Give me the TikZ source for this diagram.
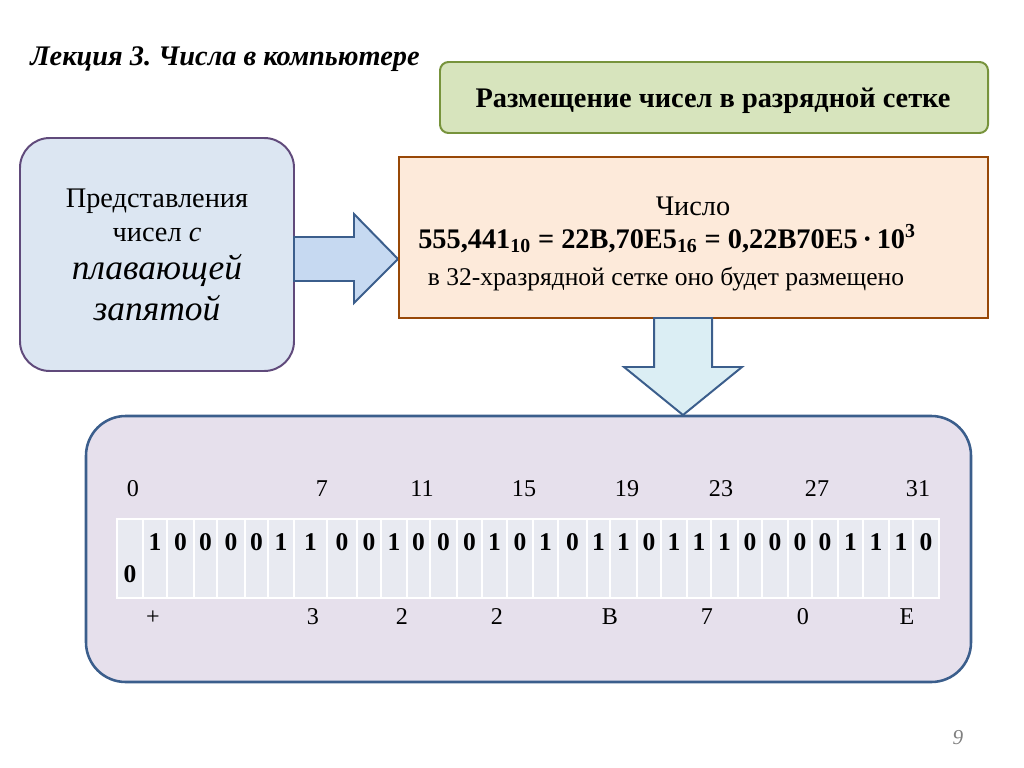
\documentclass[tikz,border=0pt]{standalone}
\usepackage{fontspec}
\setmainfont{Liberation Serif}
\frenchspacing
\definecolor{headfill}{HTML}{D7E4BD}
\definecolor{headline}{HTML}{77933C}
\definecolor{repfill}{HTML}{DCE6F2}
\definecolor{repline}{HTML}{604A7B}
\definecolor{arrowfill}{HTML}{C6D9F1}
\definecolor{arrowline}{HTML}{3B5E8C}
\definecolor{numfill}{HTML}{FDEADA}
\definecolor{numline}{HTML}{984807}
\definecolor{downfill}{HTML}{DBEEF4}
\definecolor{gridfill}{HTML}{E6E0EC}
\definecolor{cellfill}{HTML}{E8EAF1}

\begin{document}
\begin{tikzpicture}[x=0.0248cm, y=-0.0248cm,
        every node/.style={inner sep=0pt},
        idx/.style={anchor=base, font=\fontsize{17}{20}\selectfont},
        bitval/.style={anchor=base, font=\fontsize{18}{21}\selectfont\bfseries}]
        \useasboundingbox (0,0) rectangle (1024,768);

        % Title
        \node[anchor=base west, font=\fontsize{20}{24}\selectfont\bfseries\itshape] (title) at (30,66) {Лекция 3. Числа в компьютере};

        % Header box
        \draw[line width=1.4pt, draw=headline, fill=headfill, rounded corners=6pt] (440,62) rectangle (988,133);
        \node[anchor=base, font=\fontsize{20}{24}\selectfont\bfseries] (head) at (713,108) {Размещение чисел в разрядной сетке};

        % Left box
        \draw[line width=1.4pt, draw=repline, fill=repfill, rounded corners=21pt] (20,138) rectangle (294,371);
        \node[anchor=base, font=\fontsize{20}{24}\selectfont] (rep1) at (157,207) {Представления};
        \node[anchor=base, font=\fontsize{20}{24}\selectfont] (rep2) at (157,241) {чисел \textit{с}};
        \node[anchor=base, font=\fontsize{25}{29}\selectfont\itshape] (rep3) at (157,279) {плавающей};
        \node[anchor=base, font=\fontsize{25}{29}\selectfont\itshape] (rep4) at (157,320) {запятой};

        % Right arrow
        \draw[line width=1.4pt, draw=arrowline, fill=arrowfill, line join=miter]
            (294,237) -- (354,237) -- (354,214) -- (398,259) -- (354,303) -- (354,281) -- (294,281) -- cycle;

        % Number box
        \draw[line width=1.4pt, draw=numline, fill=numfill] (399,157) rectangle (988,318);
        \node[anchor=base, font=\fontsize{20}{24}\selectfont] (num1) at (693,215) {Число};
        \node[anchor=base, font=\fontsize{20}{24}\selectfont\bfseries] (num2) at (667,248)
            {555,441\textsubscript{10} = 22B,70E5\textsubscript{16} = 0,22B70E5\,·\,10\textsuperscript{3}};
        \node[anchor=base, font=\fontsize{18}{22}\selectfont] (num3) at (666,285) {в 32-хразрядной сетке оно будет размещено};

        % Down arrow
        \draw[line width=1.4pt, draw=arrowline, fill=downfill, line join=miter]
            (654,318) -- (712,318) -- (712,367) -- (742,367) -- (683,415) -- (624,367) -- (654,367) -- cycle;

        % Grid box
        \draw[line width=1.8pt, draw=arrowline, fill=gridfill, rounded corners=28pt] (86,416) rectangle (971,682);

        % Bit positions
        \foreach \x/\t in {133/0, 322/7, 422/11, 524/15, 627/19, 721/23, 817/27, 918/31} {
            \node[idx] (pos\t) at (\x,496) {\t};
        }

        % Cells
        \foreach \xa/\xb/\b [count=\i] in {117/143/0, 143/167/1, 167/194/0, 194/217/0, 217/245/0, 245/268/0,
                268/294/1, 294/327/1, 327/357/0, 357/381/0, 381/407/1, 407/430/0, 430/457/0, 457/482/0,
                482/507/1, 507/533/0, 533/558/1, 558/587/0, 587/610/1, 610/637/1, 637/661/0, 661/687/1,
                687/711/1, 711/738/1, 738/762/0, 762/788/0, 788/812/0, 812/838/0, 838/863/1, 863/889/1,
                889/913/1, 913/939/0} {
            \filldraw[fill=cellfill, draw=white, line width=0.8pt] (\xa,519) rectangle (\xb,598);
            \ifnum\i=1
                \node[bitval] (bit\i) at ({(\xa+\xb)/2},582) {\b};
            \else
                \node[bitval] (bit\i) at ({(\xa+\xb)/2},550) {\b};
            \fi
        }

        % Hex digits
        \foreach \x/\t [count=\i] in {153/+, 313/3, 402/2, 497/2, 610/B, 707/7, 803/0, 907/E} {
            \node[idx] (hex\i) at (\x,624) {\t};
        }

        % Page number
        \node[anchor=base, text=gray, font=\fontsize{15}{18}\selectfont\itshape] (page) at (958,744) {9};
\end{tikzpicture}
\end{document}
